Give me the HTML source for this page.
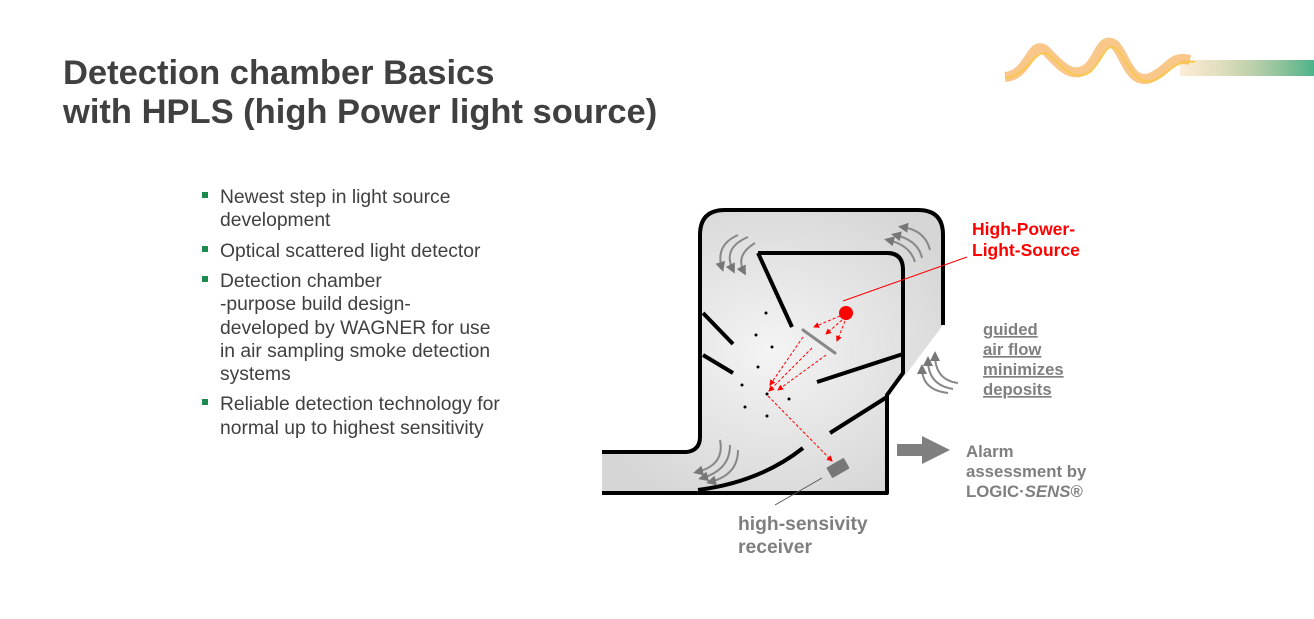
<!DOCTYPE html>
<html><head><meta charset="utf-8"><style>
html,body{margin:0;padding:0;background:#fff;}
svg{display:block;font-family:"Liberation Sans",Arial,sans-serif;}
</style></head><body>
<svg width="1314" height="619" viewBox="0 0 1314 619" xmlns="http://www.w3.org/2000/svg">
<defs>
<radialGradient id="g" cx="0.5" cy="0.5" r="0.6"><stop offset="0" stop-color="#f4f4f4"/><stop offset="1" stop-color="#d6d6d6"/></radialGradient>
<linearGradient id="tail" x1="0" x2="1"><stop offset="0" stop-color="#f2c27a" stop-opacity="0.3"/><stop offset="1" stop-color="#4db38a"/></linearGradient>
<marker id="ra" markerWidth="6" markerHeight="6" refX="5" refY="3" orient="auto"><path d="M0,0 L6,3 L0,6 z" fill="#f00"/></marker>
<marker id="ga" markerWidth="5" markerHeight="5" refX="3" refY="2.5" orient="auto"><path d="M0,0 L5,2.5 L0,5 z" fill="#777"/></marker>
</defs>
<!-- logo wave -->
<rect x="1180" y="60" width="134" height="16" fill="url(#tail)"/>
<g fill="none" stroke="#f3a23a" stroke-width="10" opacity="0.6">
<path d="M1005,77 C1030,75 1030,40 1045,50 C1060,65 1070,78 1085,70 C1100,60 1100,35 1115,45 C1125,55 1130,85 1150,78 C1170,70 1170,55 1190,60"/>
</g>
<g fill="none" stroke="#f7c84a" stroke-width="2" opacity="0.9">
<path d="M1005,78 C1030,76 1035,45 1050,55 C1065,70 1075,82 1090,72 C1105,58 1105,40 1118,50 C1128,62 1135,88 1155,80 C1172,70 1175,60 1195,62"/>
</g>
<!-- title -->
<text x="63" y="84" font-size="34.5" font-weight="bold" fill="#404040">Detection chamber Basics</text>
<text x="63" y="123" font-size="34.5" font-weight="bold" fill="#404040">with HPLS (high Power light source)</text>
<!-- bullets -->
<g fill="#1a8a4e"><rect x="202" y="192" width="6" height="6"/><rect x="202" y="246" width="6" height="6"/><rect x="202" y="276" width="6" height="6"/><rect x="202" y="399" width="6" height="6"/></g>
<g font-size="19.3" fill="#404040">
<text x="220" y="203">Newest step in light source</text>
<text x="220" y="226">development</text>
<text x="220" y="257">Optical scattered light detector</text>
<text x="220" y="287">Detection chamber</text>
<text x="220" y="310">-purpose build design-</text>
<text x="220" y="334">developed by WAGNER for use</text>
<text x="220" y="357">in air sampling smoke detection</text>
<text x="220" y="380">systems</text>
<text x="220" y="410">Reliable detection technology for</text>
<text x="220" y="434">normal up to highest sensitivity</text>
</g>
<!-- chamber fill -->
<path d="M700,235 Q700,210 725,210 L918,210 Q943,210 943,235 L943,325 L907,373 L887,395 L887,493 L602,493 L602,452 L687,452 Q700,452 700,437 Z" fill="url(#g)"/>
<!-- outer walls -->
<g fill="none" stroke="#000" stroke-width="4" stroke-linejoin="round">
<path d="M602,452 L687,452 Q700,450 700,437 L700,235 Q700,210 725,210 L918,210 Q943,210 943,235 L943,325"/>
<path d="M758,253 L887,253 Q903,253 903,270 L903,373 L887,395 L887,493 L602,493"/>
<line x1="758" y1="253" x2="792" y2="327"/>
<line x1="703" y1="313" x2="733" y2="344"/>
<line x1="703" y1="355" x2="733" y2="373"/>
<line x1="817" y1="382" x2="903" y2="354"/>
<line x1="830" y1="433" x2="887" y2="397"/>
<path d="M698,490 Q760,482 803,448"/>
</g>
<line x1="803" y1="330" x2="835" y2="353" stroke="#888" stroke-width="3" stroke-linecap="round"/>
<!-- dots -->
<g fill="#000"><circle cx="766" cy="313" r="1.5"/><circle cx="756" cy="335" r="1.5"/><circle cx="772" cy="347" r="1.5"/><circle cx="758" cy="367" r="1.5"/><circle cx="742" cy="385" r="1.5"/><circle cx="767" cy="394" r="1.5"/><circle cx="789" cy="399" r="1.5"/><circle cx="745" cy="407" r="1.5"/><circle cx="767" cy="416" r="1.5"/></g>
<!-- red -->
<line x1="843" y1="301" x2="967" y2="257" stroke="#f00" stroke-width="1"/>
<circle cx="846" cy="313" r="7" fill="#f00"/>
<g stroke="#f00" stroke-width="1" stroke-dasharray="3,2" fill="none" marker-end="url(#ra)">
<line x1="840" y1="316" x2="814" y2="327"/>
<line x1="842" y1="320" x2="826" y2="334"/>
<line x1="845" y1="321" x2="837" y2="341"/>
<line x1="803" y1="337" x2="770" y2="385"/>
<line x1="812" y1="348" x2="769" y2="391"/>
<line x1="826" y1="355" x2="778" y2="390"/>
<line x1="768" y1="396" x2="832" y2="461"/>
</g>
<rect x="828" y="462" width="20" height="12" rx="1" fill="#777" transform="rotate(-30 838 468)"/>
<line x1="775" y1="505" x2="822" y2="478" stroke="#555" stroke-width="1"/>
<!-- grey flow arrows -->
<g fill="none" stroke="#888" stroke-width="2" marker-end="url(#ga)">
<path d="M738,235 Q715,245 722,268"/><path d="M748,237 Q722,248 733,270"/><path d="M755,243 Q735,255 744,272"/>
<path d="M930,250 Q925,230 902,227"/><path d="M922,258 Q918,240 895,235"/><path d="M915,262 Q910,245 888,240"/>
<path d="M958,383 Q935,380 935,355"/><path d="M953,389 Q928,385 928,360"/><path d="M948,393 Q922,390 922,368"/>
<path d="M720,440 Q725,465 697,472"/><path d="M730,445 Q730,470 702,478"/><path d="M738,450 Q738,475 710,482"/>
</g>
<path d="M897,444 L922,444 L922,436 L950,450 L922,464 L922,456 L897,456 Z" fill="#7f7f7f"/>
<!-- labels -->
<text x="972" y="235" font-size="17.5" font-weight="bold" fill="#f00">High-Power-</text>
<text x="972" y="256" font-size="17.5" font-weight="bold" fill="#f00">Light-Source</text>
<g font-size="16.7" font-weight="bold" fill="#7f7f7f" style="text-decoration:underline wavy #e33;">
<text x="983" y="335">guided</text>
<text x="983" y="355">air flow</text>
<text x="983" y="375">minimizes</text>
<text x="983" y="395">deposits</text>
</g>
<g font-size="16.8" font-weight="bold" fill="#7f7f7f">
<text x="966" y="457">Alarm</text>
<text x="966" y="477">assessment by</text>
<text x="966" y="497">LOGIC·<tspan font-style="italic">SENS</tspan>®</text>
<text x="738" y="530" font-size="19.3">high-sensivity</text>
<text x="738" y="553" font-size="19.3">receiver</text>
</g>
</svg>
</body></html>
